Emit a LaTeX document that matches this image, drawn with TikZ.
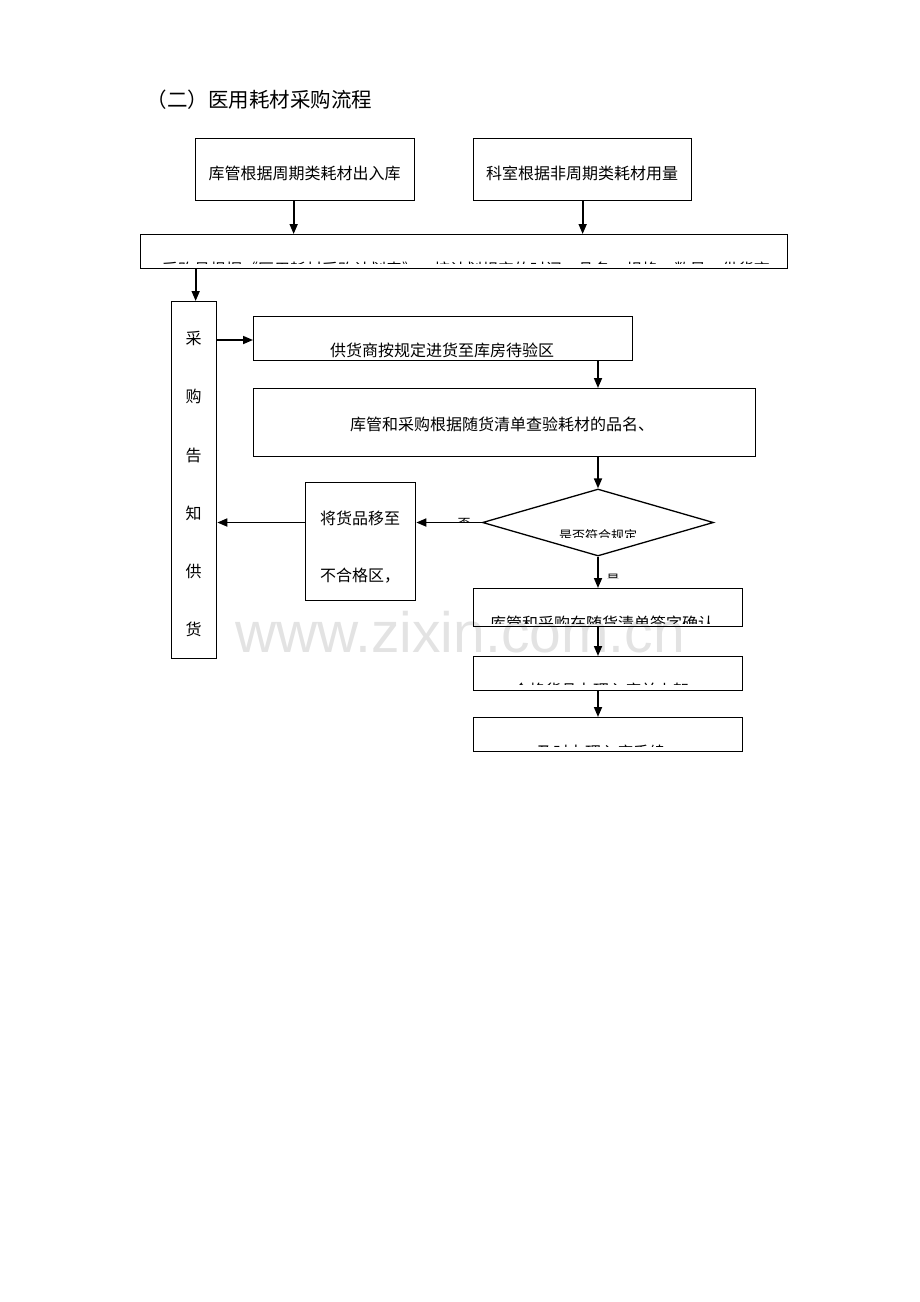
\documentclass[tikz,border=0pt]{standalone}
\usepackage{fontspec}
\newfontfamily\cjk{Noto Sans CJK SC}
\newfontfamily\wmfont{Liberation Sans}
\usetikzlibrary{arrows.meta,shapes.geometric}
\begin{document}
\begin{tikzpicture}[x=1pt,y=-1pt,line width=1.3pt,
  box/.style={draw,inner sep=0pt,anchor=north west},
  txt/.style={inner sep=0pt,font=\cjk\fontsize{16}{19}\selectfont},
  small/.style={inner sep=0pt,font=\cjk\fontsize{13}{15}\selectfont},
  arr/.style={line width=1.7pt,-{Triangle[length=10pt,width=8pt]}}]
\useasboundingbox (0,0) rectangle (920,1302);
% watermark
\node[inner sep=0pt,anchor=base,text=black!11,font=\wmfont\fontsize{57}{60}\selectfont] (wm) at (460,652) {www.zixin.com.cn};
% title
\node[txt,anchor=west,font=\cjk\fontsize{20.5}{24}\selectfont] (title) at (146,100) {（二）医用耗材采购流程};
% top boxes
\node[box,minimum width=219pt,minimum height=62pt] (boxA) at (195,138) {};
\node[txt] (tA) at (304.5,173) {库管根据周期类耗材出入库};
\node[box,minimum width=218pt,minimum height=62pt] (boxB) at (473,138) {};
\node[txt] (tB) at (582,173) {科室根据非周期类耗材用量};
% wide box
\node[box,minimum width=647pt,minimum height=34pt] (wide) at (140,234) {};
\begin{scope}
\clip (140,234) rectangle (787,263.5);
\node[txt,anchor=north] (tW) at (466,261.5) {采购员根据《医用耗材采购计划表》，按计划规定的时间、品名、规格、数量、供货商};
\end{scope}
% vertical box
\node[box,minimum width=45pt,minimum height=357pt] (vbox) at (171,301) {};
\foreach \c/\y in {采/338,购/396,告/455,知/513,供/571,货/629}
  \node[txt] at (193.5,\y) {\c};
% supplier box
\node[box,minimum width=379pt,minimum height=44pt] (sup) at (253,316) {};
\begin{scope}
\clip (253,316) rectangle (632,358.5);
\node[txt] (tS) at (442,350) {供货商按规定进货至库房待验区};
\end{scope}
% check box
\node[box,minimum width=502pt,minimum height=68pt] (boxC) at (253,388) {};
\node[txt] (tC) at (502,424) {库管和采购根据随货清单查验耗材的品名、};
% diamond
\node[draw,diamond,inner sep=0pt,minimum width=231pt,minimum height=67pt] (dia) at (598,522.5) {};
\begin{scope}
\clip (520,500) rectangle (680,537);
\node[small] (tD) at (598,536) {是否符合规定};
\end{scope}
% reject box
\node[box,minimum width=110pt,minimum height=118pt] (boxD) at (305,482) {};
\node[txt] (tR1) at (360,518) {将货品移至};
\node[txt] (tR2) at (360,576) {不合格区，};
% bottom boxes
\node[box,minimum width=269pt,minimum height=38pt] (boxE) at (473,588) {};
\begin{scope}
\clip (473,588) rectangle (742,623);
\node[txt] (tE) at (602,623) {库管和采购在随货清单签字确认};
\end{scope}
\node[box,minimum width=269pt,minimum height=34pt] (boxF) at (473,656) {};
\begin{scope}
\clip (473,656) rectangle (742,684.5);
\node[txt,anchor=north] (tF) at (601,682.5) {合格货品办理入库并上架};
\end{scope}
\node[box,minimum width=269pt,minimum height=34pt] (boxG) at (473,717) {};
\begin{scope}
\clip (473,717) rectangle (742,746.5);
\node[txt,anchor=north] (tG) at (601,744.5) {及时办理入库手续};
\end{scope}
% labels
\begin{scope}
\clip (450,510) rectangle (480,522);
\node[small] (lno) at (464,524) {否};
\end{scope}
\begin{scope}
\clip (604,566) rectangle (625,578);
\node[small] (lyes) at (613,580) {是};
\end{scope}
% connectors
\draw[arr] ([xshift=-11.5pt]boxA.south) -- ([xshift=-11.5pt]boxA.south |- wide.north);
\draw[arr] (boxB.south) -- (boxB.south |- wide.north);
\draw[arr] ([xshift=1.5pt]vbox.north |- wide.south) -- ([xshift=1.5pt]vbox.north);
\draw[arr] (vbox.east |- 0,340) -- (sup.west |- 0,340);
\draw[arr] (dia.north |- sup.south) -- (dia.north |- boxC.north);
\draw[arr] (dia.north |- boxC.south) -- (dia.north);
\draw[arr] (dia.west) -- (boxD.east |- dia.west);
\draw[arr] (boxD.west |- dia.west) -- (vbox.east |- dia.west);
\draw[arr] (dia.south) -- (dia.south |- boxE.north);
\draw[arr] (dia.south |- boxE.south) -- (dia.south |- boxF.north);
\draw[arr] (dia.south |- boxF.south) -- (dia.south |- boxG.north);
\end{tikzpicture}
\end{document}
